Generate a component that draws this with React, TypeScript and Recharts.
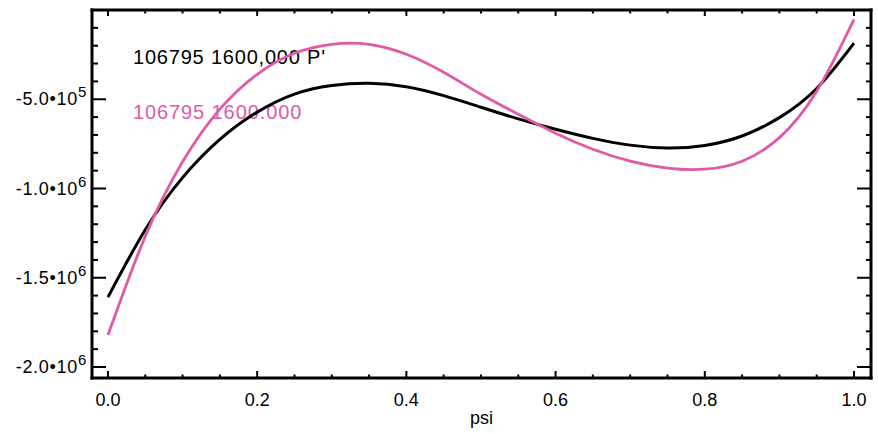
import { LineChart, Line, XAxis, YAxis, Customized } from 'recharts';

// psi sample points and the two profiles read at each of them
const PSI = [0, 0.05, 0.1, 0.15, 0.2, 0.25, 0.3, 0.35, 0.4, 0.45, 0.5, 0.55, 0.6, 0.65, 0.7, 0.75, 0.8, 0.85, 0.9, 0.95, 1.0];
const P_PRIME = [
    -1609000, -1231000, -939000, -725000, -572000, -471000, -423000, -410000, -430000, -480000, -545000,
    -610000, -668000, -719000, -757000, -773000, -759000, -706000, -603000, -440000, -186000,
];
const BASE = [
    -1821000, -1268000, -850000, -555000, -360000, -242000, -192000, -192000, -248000, -349000, -472000,
    -584000, -690000, -780000, -847000, -886000, -892000, -847000, -715000, -455000, -52000,
];

const SERIES_LABELS = ["106795 1600,000 P'", '106795 1600.000'];

const X_TICKS = PSI;
const Y_TICKS = [
    -2000000, -1900000, -1800000, -1700000, -1600000, -1500000, -1400000, -1300000, -1200000, -1100000,
    -1000000, -900000, -800000, -700000, -600000, -500000, -400000, -300000, -200000, -100000,
];
// mantissa / exponent for the labelled y ticks
const Y_LABELS: Record<number, [string, string]> = {
    [-2000000]: ['-2.0\u202210', '6'],
    [-1500000]: ['-1.5\u202210', '6'],
    [-1000000]: ['-1.0\u202210', '6'],
    [-500000]: ['-5.0\u202210', '5'],
};

const X_DOMAIN = [-0.0214, 1.0228];
const Y_DOMAIN = [-2061600, 0];

const BLACK = '#000000';
const PINK = '#e05aa5';
const FONT = '"Liberation Sans", Arial, Helvetica, sans-serif';

const data = PSI.map((psi, i) => ({ psi, pprime: P_PRIME[i], base: BASE[i] }));

const isMajorX = (v: number) => Math.abs(v * 5 - Math.round(v * 5)) < 1e-6;
const isMajorY = (v: number) => Y_LABELS[v] !== undefined;

const BottomTick = ({ x, y, payload }: any) => {
    const v = payload.value;
    const major = isMajorX(v);
    return (
        <g>
            <line x1={x} x2={x} y1={y} y2={y - (major ? 7 : 3.5)} stroke={BLACK} strokeWidth={2} />
            {major && (
                <text x={x} y={y + 28} textAnchor="middle" fontSize={18} fontFamily={FONT} fill={BLACK}>
                    {v.toFixed(1)}
                </text>
            )}
        </g>
    );
};

const TopTick = ({ x, y, payload }: any) => {
    const major = isMajorX(payload.value);
    return <line x1={x} x2={x} y1={y} y2={y + (major ? 6 : 3.5)} stroke={BLACK} strokeWidth={2} />;
};

const LeftTick = ({ x, y, payload }: any) => {
    const v = payload.value;
    const label = Y_LABELS[v];
    return (
        <g>
            <line x1={x} x2={x + (label ? 14 : 6)} y1={y} y2={y} stroke={BLACK} strokeWidth={2} />
            {label && (
                <text x={x - 5} y={y + 6} textAnchor="end" fontSize={18} fontFamily={FONT} fill={BLACK} letterSpacing={0.7}>
                    {label[0]}
                    <tspan dy={-8} fontSize={15}>{label[1]}</tspan>
                </text>
            )}
        </g>
    );
};

const RightTick = ({ x, y, payload }: any) => {
    const major = isMajorY(payload.value);
    return <line x1={x} x2={x - (major ? 14 : 5)} y1={y} y2={y} stroke={BLACK} strokeWidth={2} />;
};

const SeriesNames = () => (
    <g fontFamily={FONT} fontSize={20}>
        <text x={133} y={64} fill={BLACK} letterSpacing={0.8}>{SERIES_LABELS[0]}</text>
        <text x={133} y={119} fill={PINK} letterSpacing={0.9}>{SERIES_LABELS[1]}</text>
    </g>
);

const frame = { stroke: BLACK, strokeWidth: 3, strokeLinecap: 'square' as const };

export default function App() {
    return (
        <div style={{ width: 878, height: 434, background: '#fff' }}>
            <style>{'body { margin: 0; }'}</style>
            <LineChart width={878} height={434} data={data} margin={{ top: 9, right: 6, bottom: 0, left: 0 }}>
                <XAxis
                    dataKey="psi"
                    type="number"
                    domain={X_DOMAIN}
                    ticks={X_TICKS}
                    interval={0}
                    height={56}
                    tickSize={0}
                    tickMargin={0}
                    tickLine={false}
                    axisLine={frame}
                    tick={<BottomTick />}
                    allowDataOverflow
                    label={{ value: 'psi', position: 'insideBottom', offset: 10, fontSize: 18, fill: BLACK, fontFamily: FONT }}
                />
                <XAxis
                    xAxisId="top"
                    orientation="top"
                    dataKey="psi"
                    type="number"
                    domain={X_DOMAIN}
                    ticks={X_TICKS}
                    interval={0}
                    height={1}
                    tickSize={0}
                    tickMargin={0}
                    tickLine={false}
                    axisLine={frame}
                    tick={<TopTick />}
                    allowDataOverflow
                />
                <YAxis
                    type="number"
                    domain={Y_DOMAIN}
                    ticks={Y_TICKS}
                    interval={0}
                    width={92}
                    tickSize={0}
                    tickMargin={0}
                    tickLine={false}
                    axisLine={frame}
                    tick={<LeftTick />}
                    allowDataOverflow
                />
                <YAxis
                    yAxisId="right"
                    orientation="right"
                    type="number"
                    domain={Y_DOMAIN}
                    ticks={Y_TICKS}
                    interval={0}
                    width={1}
                    tickSize={0}
                    tickMargin={0}
                    tickLine={false}
                    axisLine={frame}
                    tick={<RightTick />}
                    allowDataOverflow
                />
                {/* invisible copy so the mirrored top/right axes have a series */}
                <Line
                    xAxisId="top"
                    yAxisId="right"
                    dataKey="pprime"
                    stroke="none"
                    dot={false}
                    activeDot={false}
                    legendType="none"
                    isAnimationActive={false}
                />
                <Line
                    type="natural"
                    dataKey="pprime"
                    stroke={BLACK}
                    strokeWidth={3}
                    dot={false}
                    isAnimationActive={false}
                />
                <Line
                    type="natural"
                    dataKey="base"
                    stroke={PINK}
                    strokeWidth={2.8}
                    dot={false}
                    isAnimationActive={false}
                />
                <Customized component={SeriesNames} />
            </LineChart>
        </div>
    );
}
